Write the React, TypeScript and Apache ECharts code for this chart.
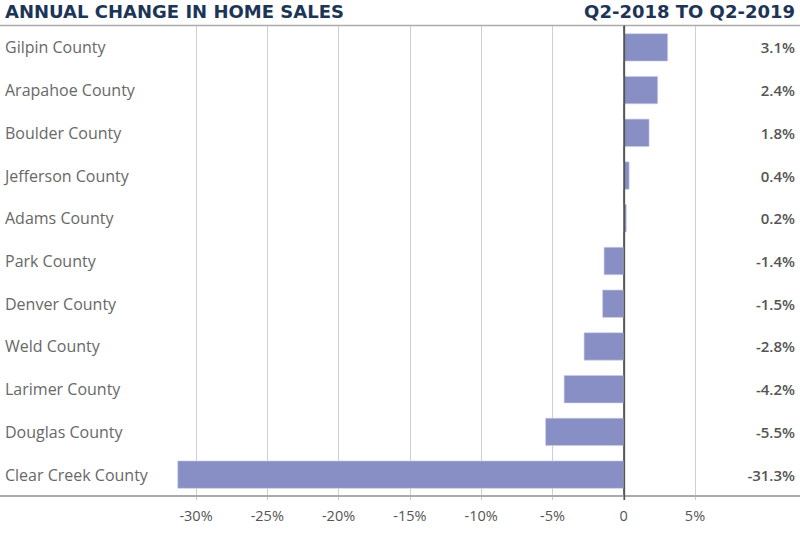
import React, { useEffect, useRef } from "react";
import * as echarts from "echarts";

const counties = [
  "Gilpin County",
  "Arapahoe County",
  "Boulder County",
  "Jefferson County",
  "Adams County",
  "Park County",
  "Denver County",
  "Weld County",
  "Larimer County",
  "Douglas County",
  "Clear Creek County",
];
const changes = [3.1, 2.4, 1.8, 0.4, 0.2, -1.4, -1.5, -2.8, -4.2, -5.5, -31.3];
const titleLeft = "ANNUAL CHANGE IN HOME SALES";
const titleRight = "Q2-2018 TO Q2-2019";

export default function App() {
  const ref = useRef<HTMLDivElement>(null);
  useEffect(() => {
    if (!ref.current) return;
    const chart = echarts.init(ref.current, undefined, { renderer: "svg" });
    const font = "'Open Sans', Lato, sans-serif";
    const titleFont = "'DejaVu Sans', sans-serif";
    const gridLeft = 124.7;
    const gridRight = 800 - 766.3;
    chart.setOption({
      animation: false,
      backgroundColor: "#ffffff",
      grid: { left: gridLeft, right: gridRight, top: 26, bottom: 44, containLabel: false },
      xAxis: {
        type: "value",
        min: -35,
        max: 10,
        interval: 5,
        axisLine: { show: false },
        axisTick: { show: true, length: 4, lineStyle: { color: "#c8c8c8" } },
        splitLine: { show: true, showMinLine: false, showMaxLine: false, lineStyle: { color: "#cfcfcf", width: 1 } },
        axisLabel: {
          color: "#555",
          fontFamily: font,
          fontSize: 14.5,
          margin: 12,
          showMinLabel: false,
          showMaxLabel: false,
          formatter: (v: number) => (v === 0 ? "0" : v + "%"),
        },
      },
      yAxis: [
        {
          type: "category",
          data: counties,
          inverse: true,
          position: "left",
          axisLine: { show: true, onZero: true, lineStyle: { color: "#555", width: 1.5 } },
          axisTick: { show: false },
          axisLabel: {
            align: "left",
            margin: gridLeft - 5,
            color: "#686868",
            fontFamily: font,
            fontSize: 16,
          },
        },
        {
          type: "category",
          data: changes.map((v) => v.toFixed(1) + "%"),
          inverse: true,
          position: "right",
          axisLine: { show: false },
          axisTick: { show: false },
          axisLabel: {
            align: "right",
            margin: 795 - (800 - gridRight),
            color: "#555",
            fontFamily: font,
            fontWeight: 600,
            fontSize: 15,
          },
        },
      ],
      series: [
        {
          type: "bar",
          data: changes,
          yAxisIndex: 0,
          barWidth: 28,
          itemStyle: { color: "#878fc5", borderColor: "#c9cce6", borderWidth: 0.6 },
          silent: true,
        },
      ],
      graphic: [
        {
          type: "line",
          shape: { x1: 0, y1: 25.5, x2: 800, y2: 25.5 },
          style: { stroke: "#aaaaaa", lineWidth: 1.5 },
          z: 10,
        },
        {
          type: "line",
          shape: { x1: 0, y1: 496, x2: 800, y2: 496 },
          style: { stroke: "#aaaaaa", lineWidth: 2 },
          z: 10,
        },
        {
          type: "line",
          shape: { x1: 624.4, y1: 25.5, x2: 624.4, y2: 500 },
          style: { stroke: "#555555", lineWidth: 1.5 },
          z: 11,
        },
        {
          type: "text",
          left: 5,
          top: 2,
          style: {
            text: titleLeft,
            fill: "#1c3557",
            font: "bold 18px " + titleFont,
          },
        },
        {
          type: "text",
          right: 5,
          top: 2,
          style: {
            text: titleRight,
            fill: "#1c3557",
            font: "bold 18px " + titleFont,
            textAlign: "right",
          },
        },
      ],
    });
    return () => chart.dispose();
  }, []);
  return (
    <div
      ref={ref}
      style={{ position: "fixed", left: 0, top: 0, width: 800, height: 540, background: "#fff" }}
    />
  );
}
